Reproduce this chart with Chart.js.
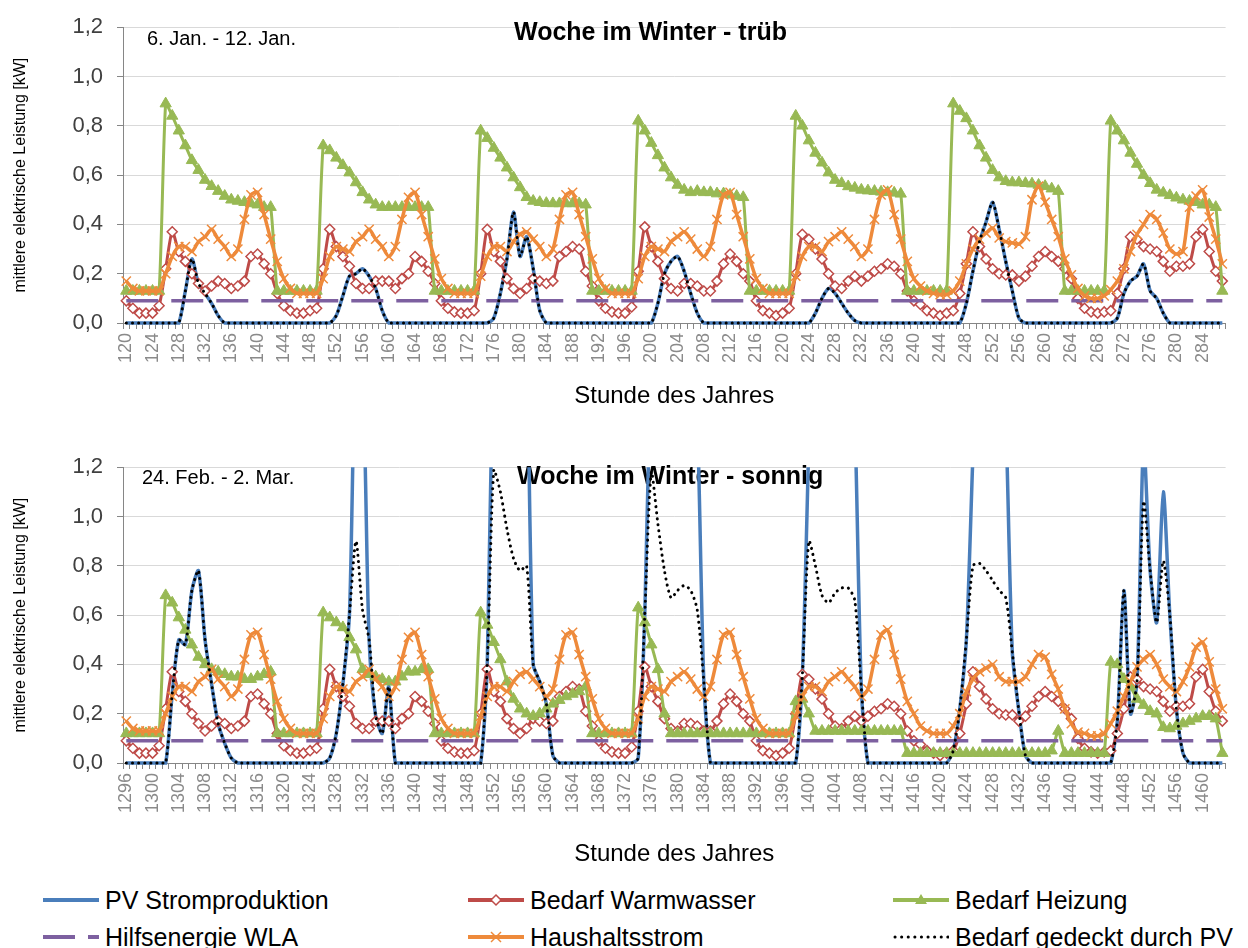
<!DOCTYPE html>
<html>
<head>
<meta charset="utf-8">
<script src="https://cdn.jsdelivr.net/npm/chart.js@4.4.1/dist/chart.umd.min.js"></script>
<style>
  body { margin: 0; background: #fff; }
  #page { position: relative; width: 1248px; height: 948px; overflow: hidden; font-family: "Liberation Sans", Arial, sans-serif; }
  .box { position: absolute; left: 0; width: 1248px; }
  .item { position: absolute; display: flex; align-items: center; height: 30px; font-size: 25px; color: #000; white-space: nowrap; }
  .item svg { margin-right: 6px; }
</style>
</head>
<body>
<div id="page">
  <div class="box" style="top:0;height:415px"><canvas id="chartTop"></canvas></div>
  <div class="box" style="top:440px;height:440px"><canvas id="chartBottom"></canvas></div>

  <div class="item" style="left:43px;top:885px">
    <svg width="56" height="30"><line x1="0" y1="15" x2="56" y2="15" stroke="#4a7ebb" stroke-width="4"/></svg>PV Stromproduktion</div>
  <div class="item" style="left:468px;top:885px">
    <svg width="56" height="30"><line x1="0" y1="15" x2="56" y2="15" stroke="#be4b48" stroke-width="4"/>
      <polygon points="28,10 33,15 28,20 23,15" fill="#fff" stroke="#be4b48" stroke-width="1.5"/></svg>Bedarf Warmwasser</div>
  <div class="item" style="left:893px;top:885px">
    <svg width="56" height="30"><line x1="0" y1="15" x2="56" y2="15" stroke="#98b954" stroke-width="4"/>
      <polygon points="28,9 34,19 22,19" fill="#98b954"/></svg>Bedarf Heizung</div>
  <div class="item" style="left:43px;top:922px">
    <svg width="56" height="30"><line x1="0" y1="15" x2="56" y2="15" stroke="#7d60a0" stroke-width="4" stroke-dasharray="32 13"/></svg>Hilfsenergie WLA</div>
  <div class="item" style="left:468px;top:922px">
    <svg width="56" height="30"><line x1="0" y1="15" x2="56" y2="15" stroke="#ee8a3b" stroke-width="4"/>
      <line x1="23" y1="10" x2="33" y2="20" stroke="#ee8a3b" stroke-width="1.5"/><line x1="23" y1="20" x2="33" y2="10" stroke="#ee8a3b" stroke-width="1.5"/></svg>Haushaltsstrom</div>
  <div class="item" style="left:893px;top:922px">
    <svg width="56" height="30"><line x1="2" y1="15" x2="56" y2="15" stroke="#000" stroke-width="3" stroke-dasharray="0.1 6.5" stroke-linecap="round"/></svg>Bedarf gedeckt durch PV</div>
</div>

<script>
// hours of the year shown in each panel (one point per hour, 7 days)
var firstHourTop = 120;
var firstHourBottom = 1296;
var hoursPerPanel = 168;

var ticksTop = [120, 124, 128, 132, 136, 140, 144, 148, 152, 156, 160, 164, 168, 172,
  176, 180, 184, 188, 192, 196, 200, 204, 208, 212, 216, 220, 224, 228, 232, 236,
  240, 244, 248, 252, 256, 260, 264, 268, 272, 276, 280, 284];
var ticksBottom = [1296, 1300, 1304, 1308, 1312, 1316, 1320, 1324, 1328, 1332, 1336,
  1340, 1344, 1348, 1352, 1356, 1360, 1364, 1368, 1372, 1376, 1380, 1384, 1388, 1392,
  1396, 1400, 1404, 1408, 1412, 1416, 1420, 1424, 1428, 1432, 1436, 1440, 1444, 1448,
  1452, 1456, 1460];

var hilfsenergie = 0.09;

// Woche im Winter - trüb (6. Jan. - 12. Jan.)
var pvTop = [
  0,0,0,0,0,0,0,0,0,0.13,0.26,0.16,0.12,0.08,0.03,0,0,0,0,0,0,0,0,0,
  0,0,0,0,0,0,0,0,0.03,0.11,0.19,0.20,0.22,0.19,0.14,0.05,0,0,0,0,0,0,0,0,
  0,0,0,0,0,0,0,0,0.02,0.12,0.26,0.45,0.27,0.35,0.22,0.05,0,0,0,0,0,0,0,0,
  0,0,0,0,0,0,0,0,0,0.08,0.20,0.25,0.27,0.21,0.12,0.04,0,0,0,0,0,0,0,0,
  0,0,0,0,0,0,0,0,0,0.04,0.10,0.14,0.12,0.08,0.04,0.01,0,0,0,0,0,0,0,0,
  0,0,0,0,0,0,0,0,0.08,0.21,0.33,0.41,0.49,0.38,0.25,0.13,0.02,0,0,0,0,0,0,0,
  0,0,0,0,0,0,0,0.02,0.12,0.17,0.19,0.24,0.13,0.10,0.04,0,0,0,0,0,0,0,0,0
];
// in the dull week all PV is used, so the dotted line lies on the PV line
var coveredTop = pvTop;

var heatingTop = [
  0.13,0.13,0.13,0.13,0.13,0.13,0.89,0.84,0.78,0.72,0.66,0.62,0.58,0.555,0.535,0.515,0.50,0.495,0.49,0.485,0.48,0.47,0.47,0.13,
  0.13,0.13,0.13,0.13,0.13,0.13,0.72,0.70,0.67,0.64,0.61,0.57,0.53,0.50,0.48,0.47,0.47,0.47,0.47,0.47,0.47,0.47,0.47,0.13,
  0.13,0.13,0.13,0.13,0.13,0.13,0.78,0.75,0.71,0.67,0.63,0.59,0.55,0.51,0.495,0.49,0.486,0.485,0.485,0.485,0.485,0.485,0.48,0.13,
  0.13,0.13,0.13,0.13,0.13,0.13,0.82,0.78,0.73,0.68,0.63,0.59,0.56,0.54,0.53,0.535,0.53,0.53,0.525,0.525,0.52,0.515,0.51,0.13,
  0.13,0.13,0.13,0.13,0.13,0.13,0.84,0.80,0.74,0.69,0.65,0.61,0.58,0.567,0.554,0.548,0.54,0.537,0.535,0.532,0.53,0.528,0.524,0.13,
  0.13,0.13,0.13,0.13,0.13,0.13,0.89,0.86,0.83,0.78,0.72,0.67,0.62,0.59,0.575,0.57,0.57,0.567,0.565,0.56,0.555,0.545,0.535,0.13,
  0.13,0.13,0.13,0.13,0.13,0.13,0.82,0.78,0.74,0.69,0.645,0.60,0.567,0.54,0.528,0.518,0.508,0.50,0.495,0.49,0.48,0.48,0.47,0.13
];

// warm water demand is the same weekly profile in both panels
var warmwasser = [
  0.09,0.06,0.04,0.04,0.04,0.07,0.22,0.37,0.29,0.25,0.20,0.16,0.13,0.15,0.17,0.16,0.14,0.15,0.17,0.27,0.28,0.24,0.20,0.12,
  0.07,0.05,0.04,0.04,0.05,0.06,0.22,0.38,0.31,0.27,0.23,0.16,0.14,0.14,0.17,0.17,0.17,0.14,0.18,0.20,0.27,0.25,0.21,0.16,
  0.09,0.06,0.045,0.04,0.04,0.05,0.20,0.38,0.29,0.25,0.18,0.14,0.12,0.14,0.18,0.17,0.16,0.17,0.27,0.29,0.31,0.30,0.21,0.15,
  0.09,0.06,0.045,0.04,0.04,0.065,0.21,0.39,0.31,0.25,0.18,0.14,0.13,0.16,0.16,0.15,0.13,0.13,0.17,0.24,0.28,0.25,0.20,0.17,
  0.09,0.05,0.04,0.03,0.04,0.06,0.20,0.36,0.34,0.30,0.26,0.20,0.15,0.14,0.17,0.19,0.17,0.19,0.21,0.22,0.24,0.23,0.20,0.13,
  0.09,0.075,0.05,0.04,0.03,0.04,0.05,0.12,0.24,0.37,0.31,0.26,0.22,0.20,0.195,0.195,0.17,0.19,0.23,0.27,0.29,0.27,0.25,0.22,
  0.18,0.10,0.06,0.045,0.04,0.045,0.05,0.12,0.22,0.35,0.34,0.31,0.30,0.29,0.25,0.21,0.23,0.23,0.24,0.35,0.38,0.29,0.21,0.17
];

var haushaltTop = [
  0.17,0.14,0.13,0.13,0.13,0.13,0.20,0.27,0.31,0.31,0.29,0.33,0.35,0.38,0.34,0.31,0.27,0.30,0.42,0.52,0.53,0.44,0.34,0.25,
  0.18,0.14,0.12,0.12,0.12,0.12,0.18,0.27,0.31,0.30,0.29,0.33,0.35,0.38,0.34,0.31,0.27,0.31,0.42,0.51,0.53,0.44,0.35,0.26,
  0.18,0.14,0.12,0.12,0.12,0.12,0.19,0.27,0.31,0.31,0.29,0.33,0.36,0.37,0.34,0.31,0.27,0.30,0.42,0.52,0.53,0.44,0.35,0.26,
  0.18,0.14,0.12,0.12,0.12,0.12,0.18,0.27,0.31,0.30,0.29,0.33,0.35,0.37,0.34,0.30,0.27,0.31,0.42,0.52,0.53,0.44,0.35,0.26,
  0.18,0.14,0.12,0.12,0.12,0.12,0.19,0.27,0.31,0.31,0.29,0.33,0.35,0.37,0.34,0.31,0.27,0.30,0.42,0.52,0.54,0.44,0.34,0.25,
  0.18,0.15,0.13,0.12,0.115,0.115,0.13,0.17,0.24,0.30,0.34,0.365,0.385,0.345,0.33,0.325,0.32,0.35,0.50,0.555,0.49,0.42,0.35,0.26,
  0.195,0.14,0.11,0.10,0.10,0.11,0.135,0.17,0.22,0.29,0.36,0.40,0.44,0.42,0.365,0.30,0.28,0.29,0.47,0.515,0.54,0.43,0.34,0.24
];

// Woche im Winter - sonnig (24. Feb. - 2. Mar.), values above 1,2 run off the plot
var pvBottom = [
  0,0,0,0,0,0,0,0.28,0.50,0.48,0.70,0.78,0.50,0.32,0.16,0.08,0.02,0,0,0,0,0,0,0,
  0,0,0,0,0,0,0,0.02,0.12,0.32,0.60,1.7,1.6,0.50,0.19,0.12,0.31,0,0,0,0,0,0,0,
  0,0,0,0,0,0,0,0.40,1.8,2.2,2.4,2.4,2.2,1.7,0.40,0.33,0.24,0.03,0,0,0,0,0,0,
  0,0,0,0,0,0,0.02,0.60,1.7,2.2,2.5,2.5,2.4,2.2,1.8,1.4,0.33,0,0,0,0,0,0,0,
  0,0,0,0,0,0,0,0.35,1.3,2.2,2.5,2.6,2.5,2.3,1.9,1.4,0.30,0,0,0,0,0,0,0,
  0,0,0,0,0,0,0.05,0.22,0.50,1.25,1.9,2.2,2.2,1.9,1.4,0.45,0.21,0.03,0,0,0,0,0,0,
  0,0,0,0,0,0,0,0.17,0.70,0.20,0.33,1.3,0.78,0.57,1.10,0.60,0.22,0.04,0,0,0,0,0,0
];

var coveredBottom = [
  0,0,0,0,0,0,0,0.28,0.50,0.48,0.70,0.78,0.50,0.32,0.16,0.08,0.02,0,0,0,0,0,0,0,
  0,0,0,0,0,0,0,0.02,0.12,0.32,0.60,0.90,0.62,0.50,0.19,0.12,0.31,0,0,0,0,0,0,0,
  0,0,0,0,0,0,0,0.40,1.19,1.10,0.95,0.83,0.78,0.80,0.40,0.33,0.24,0.03,0,0,0,0,0,0,
  0,0,0,0,0,0,0.02,0.60,1.18,0.97,0.78,0.67,0.70,0.72,0.70,0.62,0.33,0,0,0,0,0,0,0,
  0,0,0,0,0,0,0,0.35,0.90,0.80,0.68,0.65,0.69,0.71,0.71,0.66,0.30,0,0,0,0,0,0,0,
  0,0,0,0,0,0,0.05,0.22,0.50,0.80,0.81,0.78,0.74,0.70,0.67,0.45,0.21,0.03,0,0,0,0,0,0,
  0,0,0,0,0,0,0,0.17,0.70,0.20,0.33,1.06,0.78,0.57,0.82,0.60,0.22,0.04,0,0,0,0,0,0
];

var heatingBottom = [
  0.12,0.12,0.12,0.12,0.12,0.12,0.68,0.65,0.59,0.54,0.48,0.43,0.40,0.38,0.37,0.36,0.35,0.35,0.34,0.34,0.35,0.36,0.37,0.12,
  0.12,0.12,0.12,0.12,0.12,0.12,0.61,0.59,0.57,0.55,0.51,0.46,0.38,0.36,0.35,0.34,0.33,0.33,0.35,0.37,0.37,0.38,0.38,0.12,
  0.12,0.12,0.12,0.12,0.12,0.12,0.61,0.56,0.49,0.42,0.33,0.26,0.22,0.20,0.19,0.20,0.22,0.24,0.255,0.27,0.28,0.29,0.31,0.12,
  0.12,0.12,0.12,0.12,0.12,0.12,0.63,0.57,0.48,0.38,0.20,0.12,0.12,0.12,0.12,0.12,0.12,0.12,0.12,0.12,0.12,0.12,0.12,0.12,
  0.12,0.12,0.12,0.12,0.12,0.12,0.25,0.26,0.20,0.13,0.13,0.13,0.13,0.13,0.13,0.13,0.13,0.13,0.13,0.13,0.13,0.13,0.13,0.04,
  0.04,0.04,0.04,0.04,0.04,0.04,0.04,0.04,0.04,0.04,0.04,0.04,0.04,0.04,0.04,0.04,0.04,0.04,0.04,0.04,0.04,0.05,0.13,0.04,
  0.04,0.04,0.04,0.04,0.04,0.04,0.41,0.40,0.34,0.31,0.26,0.235,0.21,0.20,0.145,0.14,0.15,0.16,0.17,0.18,0.19,0.19,0.18,0.04
];

var haushaltBottom = [
  0.17,0.14,0.13,0.13,0.13,0.13,0.20,0.27,0.31,0.31,0.29,0.33,0.35,0.38,0.34,0.31,0.27,0.30,0.42,0.52,0.53,0.44,0.34,0.25,
  0.18,0.14,0.12,0.12,0.12,0.12,0.18,0.27,0.31,0.30,0.29,0.33,0.35,0.38,0.34,0.31,0.27,0.31,0.42,0.51,0.53,0.44,0.35,0.26,
  0.18,0.14,0.12,0.12,0.12,0.12,0.19,0.27,0.31,0.31,0.29,0.33,0.36,0.37,0.34,0.31,0.27,0.30,0.42,0.52,0.53,0.44,0.35,0.26,
  0.18,0.14,0.12,0.12,0.12,0.12,0.18,0.27,0.31,0.30,0.29,0.33,0.35,0.37,0.34,0.30,0.27,0.31,0.42,0.52,0.53,0.44,0.35,0.26,
  0.18,0.14,0.12,0.12,0.12,0.12,0.19,0.27,0.31,0.31,0.29,0.33,0.35,0.37,0.34,0.31,0.27,0.30,0.42,0.52,0.54,0.44,0.34,0.25,
  0.20,0.15,0.13,0.12,0.12,0.12,0.15,0.20,0.29,0.34,0.37,0.385,0.40,0.35,0.33,0.33,0.33,0.35,0.40,0.44,0.43,0.36,0.30,0.22,
  0.16,0.125,0.12,0.11,0.11,0.12,0.16,0.21,0.27,0.33,0.39,0.42,0.44,0.40,0.34,0.31,0.29,0.33,0.39,0.47,0.49,0.41,0.30,0.22
];

var fontFamily = '"Liberation Sans", Arial, sans-serif';
Chart.defaults.font.family = fontFamily;

function hourLabels(first) {
  var out = [];
  for (var i = 0; i < hoursPerPanel; i++) out.push(String(first + i));
  return out;
}

// texts that sit inside the plot area (week title and date range)
var innerTexts = {
  id: "innerTexts",
  beforeDatasetsDraw: function (chart, args, opts) {
    var ctx = chart.ctx;
    ctx.save();
    ctx.fillStyle = "#000";
    ctx.textAlign = "left";
    ctx.textBaseline = "middle";
    ctx.font = "bold 25px " + fontFamily;
    ctx.fillText(opts.title, opts.titleX, opts.titleY);
    ctx.font = "20px " + fontFamily;
    ctx.fillText(opts.period, opts.periodX, opts.periodY);
    ctx.restore();
  },
};

function makeChart(canvasId, labels, tickList, series, texts, axisHeight, titlePad) {
  var ctx = document.getElementById(canvasId).getContext("2d");
  return new Chart(ctx, {
    type: "line",
    data: {
      labels: labels,
      datasets: [
        {
          label: "PV Stromproduktion",
          data: series.pv,
          borderColor: "#4a7ebb",
          borderWidth: 3.5,
          pointRadius: 0,
          tension: 0.25,
          order: 5,
          clip: { left: 5, right: 5, top: 0, bottom: 5 },
        },
        {
          label: "Bedarf Warmwasser",
          data: series.ww,
          borderColor: "#be4b48",
          borderWidth: 3,
          pointStyle: "rectRot",
          pointRadius: 5,
          pointBackgroundColor: "#fff",
          pointBorderColor: "#be4b48",
          pointBorderWidth: 1.5,
          tension: 0.25,
          order: 4,
        },
        {
          label: "Bedarf Heizung",
          data: series.heat,
          borderColor: "#98b954",
          borderWidth: 3,
          pointStyle: "triangle",
          pointRadius: 6.5,
          pointBackgroundColor: "#98b954",
          pointBorderColor: "#98b954",
          pointBorderWidth: 1,
          tension: 0.2,
          order: 3,
        },
        {
          label: "Hilfsenergie WLA",
          data: [
            { x: labels[0], y: hilfsenergie },
            { x: labels[labels.length - 1], y: hilfsenergie },
          ],
          borderColor: "#7d60a0",
          borderWidth: 3.5,
          borderDash: [32, 13],
          pointRadius: 0,
          order: 2,
        },
        {
          label: "Haushaltsstrom",
          data: series.hh,
          borderColor: "#ee8a3b",
          borderWidth: 3.5,
          pointStyle: "crossRot",
          pointRadius: 6.5,
          pointBorderColor: "#ee8a3b",
          pointBorderWidth: 1.5,
          tension: 0.25,
          order: 1,
        },
        {
          label: "Bedarf gedeckt durch PV",
          data: series.covered,
          borderColor: "#000",
          borderWidth: 3,
          borderDash: [0.1, 6],
          borderCapStyle: "round",
          pointRadius: 0,
          tension: 0.25,
          order: 0,
          clip: { left: 5, right: 5, top: 0, bottom: 5 },
        },
      ],
    },
    options: {
      responsive: true,
      maintainAspectRatio: false,
      animation: false,
      events: [],
      layout: { padding: { top: 17, right: 22, left: 0, bottom: 0 } },
      plugins: {
        legend: { display: false },
        tooltip: { enabled: false },
        innerTexts: texts,
      },
      scales: {
        x: {
          type: "category",
          offset: true,
          grid: {
            offset: true,
            drawOnChartArea: false,
            drawTicks: true,
            tickLength: 6,
            tickColor: "#868686",
          },
          border: { color: "#868686", width: 1 },
          ticks: {
            autoSkip: false,
            minRotation: 90,
            maxRotation: 90,
            padding: 4,
            color: "#8a8a8a",
            font: { size: 18 },
            callback: function (value) {
              var lab = this.getLabelForValue(value);
              return tickList.indexOf(Number(lab)) >= 0 ? lab : "";
            },
          },
          title: {
            display: true,
            text: "Stunde des Jahres",
            color: "#000",
            font: { size: 24 },
            padding: { top: 0, bottom: titlePad },
          },
          afterFit: function (scale) {
            scale.height = axisHeight;
          },
        },
        y: {
          min: 0,
          max: 1.2,
          ticks: {
            stepSize: 0.2,
            color: "#404040",
            padding: 14,
            font: { size: 22 },
            callback: function (v) {
              return v.toFixed(1).replace(".", ",");
            },
          },
          grid: {
            color: "#d9d9d9",
            lineWidth: 1,
            drawTicks: true,
            tickLength: 6,
            tickColor: "#868686",
          },
          border: { color: "#868686", width: 1 },
          title: {
            display: true,
            text: "mittlere elektrische Leistung [kW]",
            color: "#000",
            font: { size: 16 },
            padding: { top: 11, bottom: 0 },
          },
          afterFit: function (scale) {
            scale.width = 123;
          },
        },
      },
    },
    plugins: [innerTexts],
  });
}

var chartTop = makeChart(
  "chartTop",
  hourLabels(firstHourTop),
  ticksTop,
  { pv: pvTop, ww: warmwasser, heat: heatingTop, hh: haushaltTop, covered: coveredTop },
  { title: "Woche im Winter - trüb", titleX: 514, titleY: 33, period: "6. Jan. - 12. Jan.", periodX: 147, periodY: 39 },
  92,
  4
);

var chartBottom = makeChart(
  "chartBottom",
  hourLabels(firstHourBottom),
  ticksBottom,
  { pv: pvBottom, ww: warmwasser, heat: heatingBottom, hh: haushaltBottom, covered: coveredBottom },
  { title: "Woche im Winter - sonnig", titleX: 517, titleY: 37, period: "24. Feb. - 2. Mar.", periodX: 142, periodY: 38 },
  117,
  11
);
</script>
</body>
</html>
